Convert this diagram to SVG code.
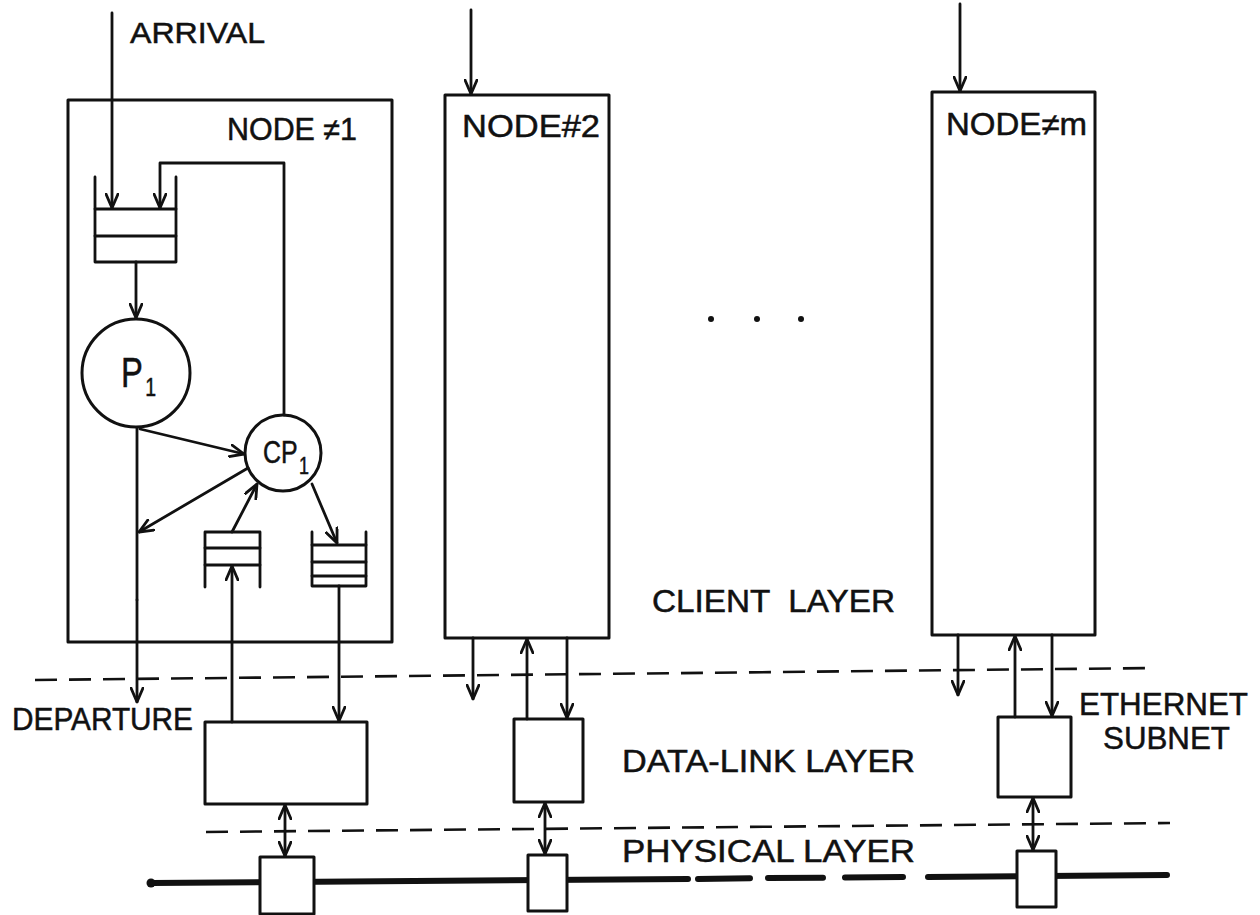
<svg xmlns="http://www.w3.org/2000/svg" width="1260" height="915" viewBox="0 0 1260 915">
<style>
.ln{fill:none;stroke:#111;stroke-width:2.8;stroke-linecap:round;stroke-linejoin:round}
.bx{fill:#fff;stroke:#111;stroke-width:3;stroke-linejoin:round}
.ar{marker-end:url(#ah)}
.da{marker-start:url(#ah);marker-end:url(#ah)}
.dash{fill:none;stroke:#111;stroke-width:2.6;stroke-dasharray:22 12}
.bus{fill:none;stroke:#111;stroke-width:6;stroke-linecap:round}
.t{font-family:"Liberation Sans",Arial,sans-serif;fill:#111;stroke:#111;stroke-width:0.5}
</style>
<defs>
<marker id="ah" viewBox="0 0 16 14" refX="15" refY="7" markerWidth="16" markerHeight="14" markerUnits="userSpaceOnUse" orient="auto-start-reverse">
<path d="M1,1 L15,7 L1,13" fill="none" stroke="#111" stroke-width="2.8" stroke-linecap="round" stroke-linejoin="round"/>
</marker>
</defs>
<rect width="1260" height="915" fill="#fff"/>

<!-- layer separators and bus -->
<g id="layers">
<line class="dash" x1="35" y1="680" x2="1155" y2="668"/>
<line class="dash" x1="206" y1="832" x2="1170" y2="823"/>
<line class="bus" x1="152" y1="883" x2="688" y2="879"/>
<line class="bus" x1="698" y1="879" x2="750" y2="878.3"/>
<line class="bus" x1="768" y1="878.1" x2="823" y2="877.7"/>
<line class="bus" x1="845" y1="877.5" x2="903" y2="877.1"/>
<line class="bus" x1="928" y1="876.9" x2="1167" y2="875"/>
<circle cx="151" cy="883" r="4.5" fill="#111"/>
</g>

<!-- Node 1 -->
<g id="node1">
<rect class="bx" x="68" y="100" width="324" height="542"/>
<text class="t" x="227" y="140" font-size="31" textLength="130" lengthAdjust="spacingAndGlyphs">NODE ≠1</text>
<!-- input queue -->
<polyline class="ln" points="95,177 95,262 176,262 176,177"/>
<line class="ln" x1="95" y1="209" x2="176" y2="209"/>
<line class="ln" x1="95" y1="236" x2="176" y2="236"/>
<circle class="bx" cx="136" cy="373" r="54"/>
<text class="t" transform="translate(121,387) scale(0.78,1)" font-size="42">P<tspan x="31" dy="9" font-size="25">1</tspan></text>
<circle class="bx" cx="283" cy="453" r="38"/>
<text class="t" transform="translate(263,463) scale(0.78,1)" font-size="32">CP<tspan x="46" dy="11" font-size="23">1</tspan></text>
<!-- upside-down receive queue -->
<polyline class="ln" points="205,587 205,532 260,532 260,587"/>
<line class="ln" x1="205" y1="548" x2="260" y2="548"/>
<line class="ln" x1="205" y1="565" x2="260" y2="565"/>
<!-- send queue -->
<polyline class="ln" points="312,532 312,586 366,586 366,532"/>
<line class="ln" x1="312" y1="545" x2="366" y2="545"/>
<line class="ln" x1="312" y1="562" x2="366" y2="562"/>
<line class="ln" x1="312" y1="576" x2="366" y2="576"/>
</g>

<g id="dl1"><rect class="bx" x="205" y="722" width="162" height="82"/></g>
<g id="ph1"><rect class="bx" x="260" y="857" width="54" height="57"/></g>

<!-- Node 2 -->
<g id="node2">
<rect class="bx" x="445" y="95" width="164" height="543"/>
<text class="t" x="462" y="137" font-size="31" textLength="138" lengthAdjust="spacingAndGlyphs">NODE#2</text>
</g>
<g id="dl2"><rect class="bx" x="514" y="719" width="69" height="83"/></g>
<g id="ph2"><rect class="bx" x="528" y="855" width="39" height="56"/></g>

<!-- Node m -->
<g id="nodem">
<rect class="bx" x="932" y="92" width="163" height="543"/>
<text class="t" x="946" y="135" font-size="31" textLength="141" lengthAdjust="spacingAndGlyphs">NODE≠m</text>
</g>
<g id="dlm"><rect class="bx" x="998" y="717" width="73" height="80"/></g>
<g id="phm"><rect class="bx" x="1017" y="851" width="39" height="56"/></g>

<g id="dots">
<circle cx="711" cy="319" r="3" fill="#111"/>
<circle cx="757" cy="319" r="3" fill="#111"/>
<circle cx="801" cy="319" r="3" fill="#111"/>
</g>

<!-- connectors -->
<g id="connectors">
<line class="ln ar" x1="112" y1="13" x2="112" y2="208"/>
<polyline class="ln ar" points="284,415 284,163 160,163 160,208"/>
<line class="ln ar" x1="136" y1="262" x2="136" y2="318"/>
<line class="ln ar" x1="140" y1="429" x2="244" y2="454"/>
<line class="ln" x1="137" y1="428" x2="137" y2="600"/>
<line class="ln ar" x1="137" y1="600" x2="137" y2="702"/>
<line class="ln ar" x1="248" y1="468" x2="139" y2="532"/>
<line class="ln ar" x1="232" y1="532" x2="257" y2="484"/>
<line class="ln ar" x1="232" y1="722" x2="232" y2="566"/>
<line class="ln ar" x1="312" y1="484" x2="337" y2="543"/>
<line class="ln ar" x1="339" y1="586" x2="339" y2="721"/>
<line class="ln da" x1="285" y1="805" x2="285" y2="856"/>

<line class="ln ar" x1="471" y1="10" x2="471" y2="94"/>
<line class="ln ar" x1="473" y1="638" x2="473" y2="699"/>
<line class="ln ar" x1="527" y1="719" x2="527" y2="639"/>
<line class="ln ar" x1="567" y1="638" x2="567" y2="718"/>
<line class="ln da" x1="545" y1="803" x2="545" y2="854"/>

<line class="ln ar" x1="960" y1="4" x2="960" y2="91"/>
<line class="ln ar" x1="958" y1="635" x2="958" y2="695"/>
<line class="ln ar" x1="1015" y1="717" x2="1015" y2="636"/>
<line class="ln ar" x1="1052" y1="635" x2="1052" y2="716"/>
<line class="ln da" x1="1033" y1="798" x2="1033" y2="850"/>
</g>

<g id="labels">
<text class="t" x="130" y="43" font-size="30" textLength="135" lengthAdjust="spacingAndGlyphs">ARRIVAL</text>
<text class="t" x="12" y="730" font-size="31" textLength="181" lengthAdjust="spacingAndGlyphs">DEPARTURE</text>
<text class="t" x="652" y="612" font-size="31" textLength="243" lengthAdjust="spacingAndGlyphs" xml:space="preserve">CLIENT  LAYER</text>
<text class="t" x="622" y="772" font-size="31" textLength="293" lengthAdjust="spacingAndGlyphs">DATA-LINK LAYER</text>
<text class="t" x="622" y="862" font-size="31" textLength="293" lengthAdjust="spacingAndGlyphs">PHYSICAL LAYER</text>
<text class="t" x="1079" y="715" font-size="31" textLength="169" lengthAdjust="spacingAndGlyphs">ETHERNET</text>
<text class="t" x="1103" y="749" font-size="31" textLength="127" lengthAdjust="spacingAndGlyphs">SUBNET</text>
</g>
</svg>
